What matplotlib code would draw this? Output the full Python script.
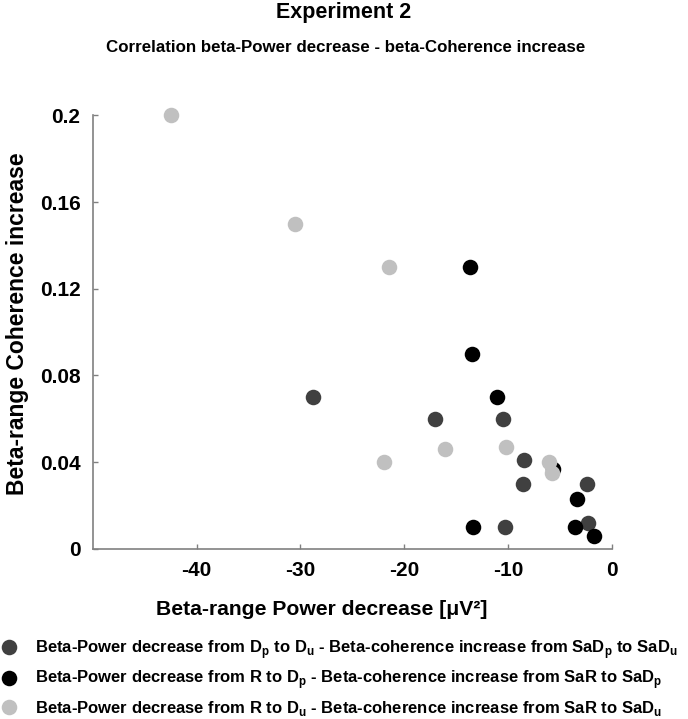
import matplotlib
matplotlib.use("Agg")
import matplotlib.pyplot as plt
from matplotlib.lines import Line2D

plt.rcParams['font.family'] = ['Liberation Sans', 'DejaVu Sans']
plt.rcParams['font.weight'] = 'bold'
plt.rcParams['mathtext.fontset'] = 'custom'
plt.rcParams['mathtext.bf'] = 'Liberation Sans:bold'
plt.rcParams['mathtext.rm'] = 'Liberation Sans:bold'

# --- Данные ---
# Du vs Dp (тёмно-серые)
dpdu_x = [-28.8, -17.0, -10.5, -8.5, -8.6, -10.3, -2.4, -2.3]
dpdu_y = [0.070, 0.060, 0.060, 0.041, 0.030, 0.010, 0.030, 0.012]
# R -> Dp (чёрные)
rdp_x = [-13.7, -13.5, -11.1, -13.4, -3.4, -3.6, -1.7, -5.7]
rdp_y = [0.130, 0.090, 0.070, 0.010, 0.023, 0.010, 0.006, 0.037]
# R -> Du (светло-серые)
rdu_x = [-42.5, -30.5, -21.5, -22.0, -16.1, -10.2, -6.1, -5.8]
rdu_y = [0.200, 0.150, 0.130, 0.040, 0.046, 0.047, 0.040, 0.035]

x_ticks = [-40, -30, -20, -10, 0]
y_ticks = [0, 0.04, 0.08, 0.12, 0.16, 0.2]
y_ticklabels = ['0', '0.04', '0.08', '0.12', '0.16', '0.2']

labels = [
    r'Beta-Power decrease from D$_\mathbf{p}$ to D$_\mathbf{u}$ - Beta-coherence increase from SaD$_\mathbf{p}$ to SaD$_\mathbf{u}$',
    r'Beta-Power decrease from R to D$_\mathbf{p}$ - Beta-coherence increase from SaR to SaD$_\mathbf{p}$',
    r'Beta-Power decrease from R to D$_\mathbf{u}$ - Beta-coherence increase from SaR to SaD$_\mathbf{u}$',
]
colors = ['#404040', '#000000', '#c0c0c0']

fig = plt.figure(figsize=(6.88, 7.19), dpi=100)
ax = fig.add_axes([0.135, 0.2368, 0.7544, 0.6028])

ms = 125
ax.scatter(dpdu_x, dpdu_y, s=ms, color=colors[0], linewidths=0, clip_on=False, zorder=3)
ax.scatter(rdp_x, rdp_y, s=ms, color=colors[1], linewidths=0, clip_on=False, zorder=3)
ax.scatter(rdu_x, rdu_y, s=ms, color=colors[2], linewidths=0, clip_on=False, zorder=3)

ax.set_xlim(-50, 0)
ax.set_ylim(0, 0.2)
ax.set_xticks(x_ticks)
ax.set_xticklabels([str(t) for t in x_ticks])
ax.set_yticks(y_ticks)
ax.set_yticklabels(y_ticklabels)
for side in ['top', 'right']:
    ax.spines[side].set_visible(False)
for side in ['left', 'bottom']:
    ax.spines[side].set_color('#808080')
    ax.spines[side].set_linewidth(1.2)
ax.tick_params(direction='in', length=3.5, width=1, color='#808080',
               labelsize=15, pad=9)

fig.text(0.5, 0.983, 'Experiment 2', ha='center', va='center', fontsize=15.5, fontweight='bold')
fig.text(0.503, 0.934, 'Correlation beta-Power decrease - beta-Coherence increase',
         ha='center', va='center', fontsize=12.2, fontweight='bold')
fig.text(0.025, 0.55, 'Beta-range Coherence increase', rotation=90,
         ha='center', va='center', fontsize=16.5, fontweight='bold')
fig.text(0.468, 0.152, 'Beta-range Power decrease [μV²]', ha='center', va='center',
         fontsize=15.2, fontweight='bold')

handles = [Line2D([], [], ls='none', marker='o', markersize=11.2, color=c, markeredgewidth=0)
           for c in colors]
fig.legend(handles, labels, loc='upper left', bbox_to_anchor=(0.002, 0.1125),
           frameon=False, fontsize=12, handlelength=0.9, handletextpad=1.12,
           labelspacing=0.45, borderpad=0, borderaxespad=0)

fig.savefig('out.png', dpi=100)
